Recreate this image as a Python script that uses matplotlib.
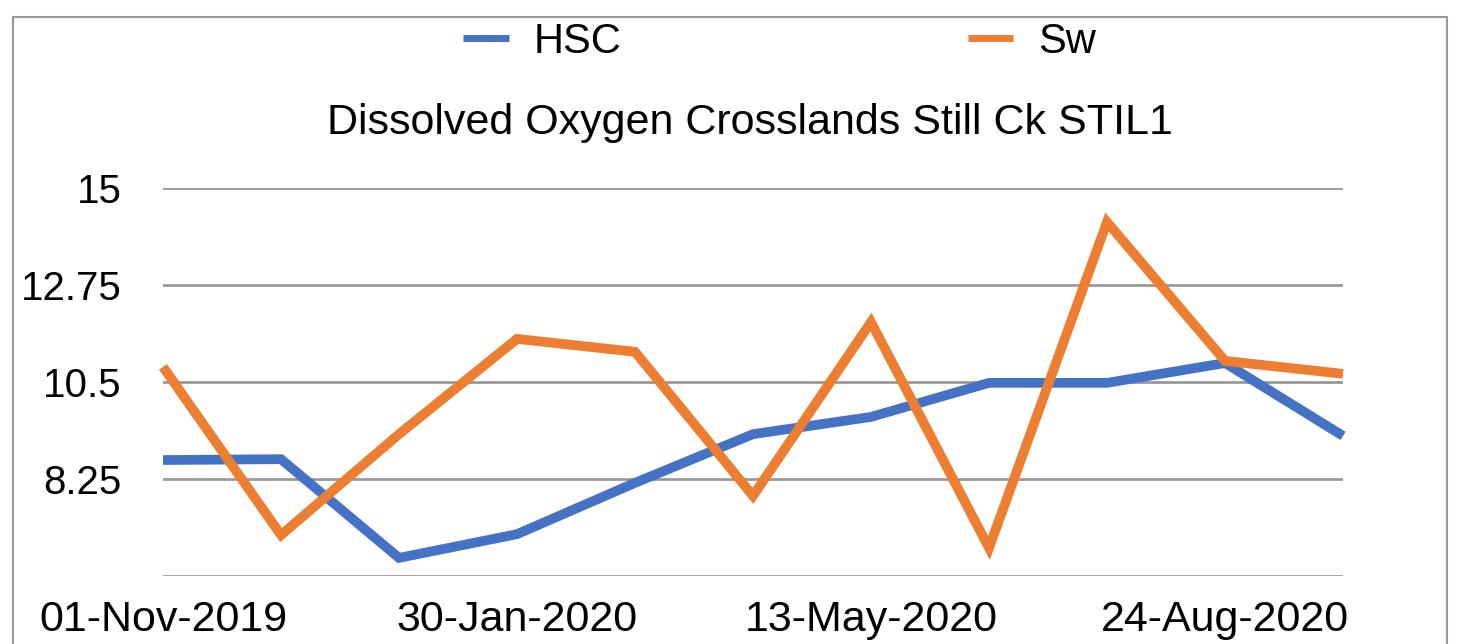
import matplotlib
matplotlib.use('Agg')
import matplotlib.pyplot as plt
from matplotlib.patches import Rectangle

# data
dates = ['01-Nov-2019', '29-Nov-2019', '30-Dec-2019', '30-Jan-2020', '02-Mar-2020',
         '14-Apr-2020', '13-May-2020', '15-Jun-2020', '20-Jul-2020', '24-Aug-2020',
         '28-Sep-2020']
hsc = [8.69, 8.71, 6.42, 6.97, 8.16, 9.29, 9.69, 10.48, 10.48, 10.94, 9.25]
sw = [10.85, 6.95, 9.29, 11.50, 11.20, 7.86, 11.89, 6.65, 14.21, 10.99, 10.69]
yticks = [6, 8.25, 10.5, 12.75, 15]
ytick_labels = ['', '8.25', '10.5', '12.75', '15']

plt.rcParams['font.family'] = ['Liberation Sans', 'DejaVu Sans']

W, H = 1463, 644
fig = plt.figure(figsize=(W / 100, H / 100), dpi=100)

# outer frame
fig.patches.append(Rectangle((13 / W, -0.05), (1447 - 13) / W, 1.05 - 17 / H,
                             transform=fig.transFigure, fill=False,
                             edgecolor='#9a9a9a', linewidth=1.5))

ax = fig.add_axes([163 / W, (H - 576) / H, (1343 - 163) / W, (576 - 188) / H])
x = list(range(len(dates)))
l1, = ax.plot(x, hsc, color='#4472C4', linewidth=7, solid_joinstyle='miter',
              solid_capstyle='butt', label='HSC', clip_on=False, zorder=3)
l2, = ax.plot(x, sw, color='#ED7D31', linewidth=7, solid_joinstyle='miter',
              solid_capstyle='butt', label='Sw', clip_on=False, zorder=3)

ax.set_xlim(0, len(dates) - 1)
ax.set_ylim(6, 15)
ax.set_yticks(yticks)
ax.set_yticklabels(ytick_labels, fontsize=29)
ax.set_xticks(x[::3])
ax.set_xticklabels(dates[::3], fontsize=31)
ax.tick_params(length=0, pad=30, axis='y')
ax.tick_params(length=0, pad=17, axis='x')
for s in ax.spines.values():
    s.set_visible(False)
for yt in yticks:
    ax.axhline(yt, color='#999999', linewidth=2, zorder=1)

fig.text(750 / W, (H - 123) / H, 'Dissolved Oxygen Crosslands Still Ck STIL1',
         ha='center', va='center', fontsize=31)

leg = fig.legend(handles=[l1, l2], loc='center left', bbox_to_anchor=(463 / W, (H - 42) / H),
                 ncol=2, frameon=False, fontsize=30, handlelength=1.1,
                 columnspacing=8.3, handletextpad=0.6, borderpad=0, borderaxespad=0)
for h in leg.legend_handles:
    h.set_linewidth(5)

plt.savefig('out.png', dpi=100)
